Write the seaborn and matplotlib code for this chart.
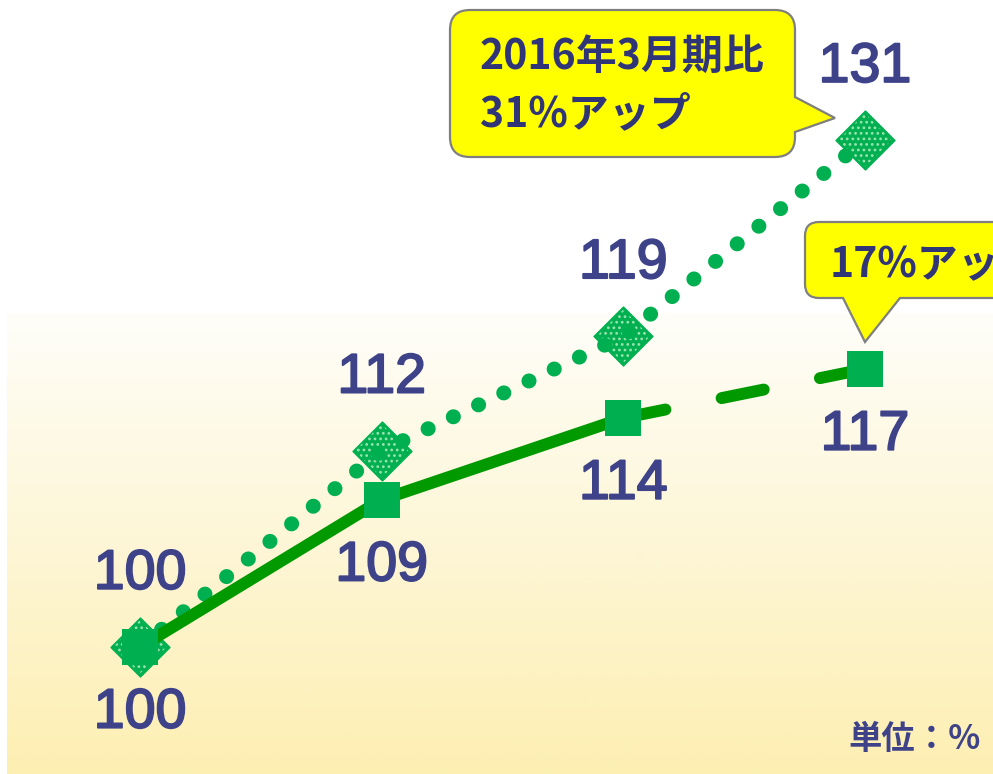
import numpy as np
import matplotlib
matplotlib.use('Agg')
import matplotlib.pyplot as plt
import matplotlib.transforms as mtransforms
import matplotlib.patheffects as pe
from matplotlib.path import Path
from matplotlib.patches import PathPatch
from matplotlib.colors import LinearSegmentedColormap
import seaborn as sns

# data
period_idx = [0, 1, 2, 3]
diamond_vals = [100, 112, 119, 131]   # 点線・ひし形
square_vals = [100, 109, 114, 117]    # 実線/破線・四角
bubble1_lines = ['2016年3月期比', '31%アップ']
bubble2_text = '17%アップ'
unit_text = '単位：%'

sns.set_style('white')
plt.rcParams['font.family'] = ['Liberation Sans', 'Noto Sans CJK JP', 'DejaVu Sans']
plt.rcParams['hatch.linewidth'] = 1.2

W, H = 993, 774
fig = plt.figure(figsize=(W / 100, H / 100), dpi=100)
fig.patch.set_facecolor('white')

# pixel transform (x right, y down)
px = mtransforms.Affine2D().scale(1 / W, -1 / H).translate(0, 1) + fig.transFigure

# background gradient
ax_bg = fig.add_axes([0, 0, 1, 1], zorder=0)
ax_bg.set_xlim(0, W)
ax_bg.set_ylim(H, 0)
ax_bg.axis('off')
grad_cmap = LinearSegmentedColormap.from_list('bg', ['#FFFEF9', '#FDF6D6', '#FDEFB2'])
ax_bg.imshow(np.linspace(0, 1, 256).reshape(-1, 1), cmap=grad_cmap, aspect='auto',
             extent=(7, W, H, 313), interpolation='bilinear')

# main axes
ax = fig.add_axes([0, 0, 1, 1], zorder=1)
ax.patch.set_alpha(0)
ax.axis('off')
ax.set_xlim(-0.579, 3.530)
ax.set_ylim(92.23, 139.57)

green_dark = '#009900'
green = '#00B050'
label_col = '#3E4389'

# diamonds (hatched): fill, then light dotted hatch on top
sns.scatterplot(x=period_idx, y=diamond_vals, marker='D', s=900, color=green,
                edgecolor=green, linewidth=1.0, ax=ax, zorder=2, legend=False)
sns.scatterplot(x=period_idx, y=diamond_vals, marker='D', s=740, facecolor='none',
                edgecolor='#9BE3B0', linewidth=0, hatch='...', ax=ax, zorder=2.5, legend=False)
# dotted line
sns.lineplot(x=period_idx, y=diamond_vals, color=green, linewidth=10.8, ax=ax,
             linestyle=(0, (0.01, 1.85)), dash_capstyle='round', zorder=3, legend=False)
# solid line (first three) + dashed (last segment)
sns.lineplot(x=period_idx[:3], y=square_vals[:3], color=green_dark, linewidth=8.6, ax=ax,
             solid_capstyle='round', zorder=4, legend=False)
sns.lineplot(x=period_idx[2:], y=square_vals[2:], color=green_dark, linewidth=8.6, ax=ax,
             linestyle=(0, (3.6, 4.8)), dash_capstyle='round', zorder=4, legend=False)
# squares
sns.scatterplot(x=period_idx, y=square_vals, marker='s', s=700, color=green,
                linewidth=0, ax=ax, zorder=5, legend=False)

# value labels (slightly heavier strokes)
heavy = [pe.withStroke(linewidth=1.4, foreground=label_col)]
for x, v in zip(period_idx, diamond_vals):
    ax.annotate(str(v), (x, v), xytext=(0, 52), textcoords='offset points',
                ha='center', va='center', fontsize=40, color=label_col,
                family='Liberation Sans', zorder=6, path_effects=heavy)
for x, v in zip(period_idx, square_vals):
    ax.annotate(str(v), (x, v), xytext=(0, -48), textcoords='offset points',
                ha='center', va='center', fontsize=40, color=label_col,
                family='Liberation Sans', zorder=6, path_effects=heavy)


def callout_path(pts, radii):
    verts, codes = [], []
    n = len(pts)
    for i, (p, r) in enumerate(zip(pts, radii)):
        p = np.array(p, float)
        if r > 0:
            prev = np.array(pts[i - 1], float)
            nxt = np.array(pts[(i + 1) % n], float)
            a = p + (prev - p) / np.linalg.norm(prev - p) * r
            b = p + (nxt - p) / np.linalg.norm(nxt - p) * r
            verts += [a, p, b]
            codes += [Path.LINETO, Path.CURVE3, Path.CURVE3]
        else:
            verts.append(p)
            codes.append(Path.LINETO)
    codes[0] = Path.MOVETO
    verts.append(verts[0])
    codes.append(Path.CLOSEPOLY)
    return Path(verts, codes)


bubble_style = dict(facecolor='#FFFF00', edgecolor='#7F7F7F', linewidth=1.6,
                    transform=px, clip_on=False, zorder=7)

b1 = callout_path([(450, 10), (795, 10), (795, 97), (835, 118), (795, 132), (795, 157), (450, 157)],
                  [20, 20, 0, 0, 0, 20, 20])
ax.add_patch(PathPatch(b1, **bubble_style))
b2 = callout_path([(805, 222), (1060, 222), (1060, 298), (900, 298), (865, 342), (843, 298), (805, 298)],
                  [14, 14, 14, 0, 0, 0, 14])
ax.add_patch(PathPatch(b2, **bubble_style))

txt_col = '#2F3576'
cjk = ['Noto Sans CJK JP', 'DejaVu Sans']
ax.text(480, 57, bubble1_lines[0], transform=px, fontsize=29.5, fontweight='bold',
        color=txt_col, family=cjk, ha='left', va='center', zorder=8)
ax.text(480, 114, bubble1_lines[1], transform=px, fontsize=29.5, fontweight='bold',
        color=txt_col, family=cjk, ha='left', va='center', zorder=8)
ax.text(830, 264, bubble2_text, transform=px, fontsize=29.5, fontweight='bold',
        color=txt_col, family=cjk, ha='left', va='center', zorder=8, clip_on=False)
ax.text(848, 740, unit_text, transform=px, fontsize=24, fontweight='bold',
        color=label_col, family=cjk, ha='left', va='center', zorder=8)

fig.savefig('out.png', dpi=100)
